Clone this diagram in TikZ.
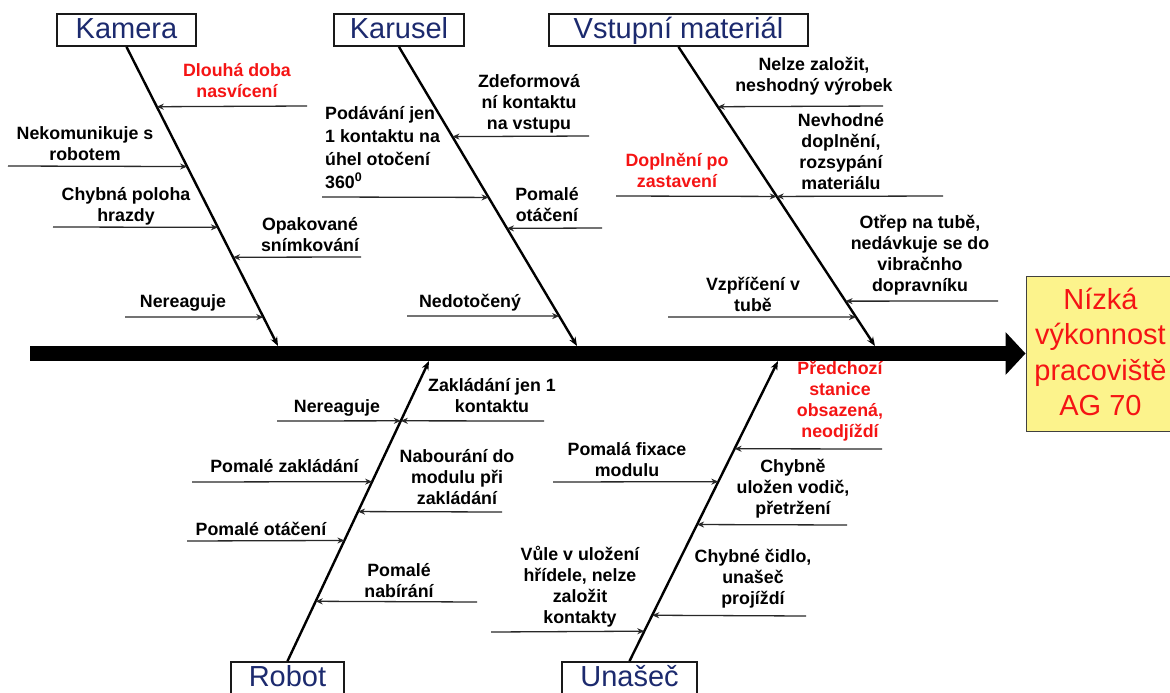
\documentclass[tikz,border=0pt]{standalone}
\usepackage{fontspec}
\setmainfont{Liberation Sans}
\usetikzlibrary{arrows.meta,calc}
\definecolor{catnavy}{RGB}{28,42,110}
\definecolor{alertred}{RGB}{245,20,20}
\definecolor{effyellow}{RGB}{252,243,140}
\definecolor{linegray}{RGB}{40,40,40}

\begin{document}
\begin{tikzpicture}[x=1pt,y=-1pt,
  catbox/.style={draw=black!90, line width=1.8pt, fill=white, minimum height=32pt,
    inner sep=0pt, text height=17pt, text depth=0pt, text=catnavy,
    font=\fontsize{29}{34}\selectfont},
  effbox/.style={draw=black!75, line width=1pt, fill=effyellow, minimum width=149pt,
    minimum height=155pt, inner sep=0pt, align=center, text=alertred,
    font=\fontsize{29}{35.6}\selectfont},
  bone/.style={line width=2.4pt, -{Stealth[length=9pt,width=7pt]}},
  spine/.style={line width=15pt},
  cause/.style={draw=linegray, line width=1.3pt, -{Stealth[length=7pt,width=6pt]}},
  lbl/.style={inner sep=0pt, align=center, anchor=south,
    font=\fontsize{17.8}{21}\selectfont\bfseries},
  alert/.style={text=alertred}
]
\useasboundingbox (0,0) rectangle (1170,693);
\clip (0,0) rectangle (1170,693);
\fill[white] (0,0) rectangle (1170,693);

% category boxes
\node[catbox, minimum width=139pt] (kam) at (126.5,30) {Kamera};
\node[catbox, minimum width=130pt] (kar) at (399,30) {Karusel};
\node[catbox, minimum width=259pt] (vst) at (678.5,30) {Vstupní materiál};
\node[catbox, minimum width=113pt] (rob) at (287.5,678) {Robot};
\node[catbox, minimum width=135pt] (una) at (629.5,678) {Unašeč};

% effect
\node[effbox] (eff) at (1100.5,353.5)
  {\rule{0pt}{28pt}Nízká\\výkonnost\\pracoviště\\AG 70\rule[-10pt]{0pt}{10pt}};

% spine with its head
\coordinate (spL) at (30,353.5);
\draw[spine] (spL) -- ($(eff.west)+(-20,0)$);
\fill ($(eff.west)+(-20,-21.5)$) -- (eff.west) -- ($(eff.west)+(-20,21.5)$) -- cycle;

% bones
\coordinate (kamS) at (278,346);
\coordinate (karS) at (577,346);
\coordinate (vstS) at (875,346);
\coordinate (robS) at (429,361);
\coordinate (unaS) at (778,361);
\draw[bone] (kam.south) -- (kamS);
\draw[bone] (kar.south) -- (karS);
\draw[bone] (vst.south) -- (vstS);
\draw[bone] (rob.north) -- (robS);
\draw[bone] (una.north) -- (unaS);

% Kamera causes
\coordinate (k1) at ($(kam.south)!0.2!(kamS)$);    \coordinate (k1f) at (307,106);
\coordinate (k2) at ($(kam.south)!0.4!(kamS)$);    \coordinate (k2f) at (8,166);
\coordinate (k3) at ($(kam.south)!0.6033!(kamS)$); \coordinate (k3f) at (53,227);
\coordinate (k4) at ($(kam.south)!0.7033!(kamS)$); \coordinate (k4f) at (361,257);
\coordinate (k5) at ($(kam.south)!0.9033!(kamS)$); \coordinate (k5f) at (125,317);
\foreach \c in {k1,k2,k3,k4,k5} \draw[cause] (\c f) -- (\c);
\node[lbl, alert] (k1t) at (237,104.3) {Dlouhá doba\\nasvícení\strut};
\node[lbl] (k2t) at (85,167.3) {Nekomunikuje s\\robotem\strut};
\node[lbl] (k3t) at (126,228.3) {Chybná poloha\\hrazdy\strut};
\node[lbl] (k4t) at (310,258.3) {Opakované\\snímkování\strut};
\node[lbl] (k5t) at (183,314.3) {Nereaguje\strut};

% Karusel causes
\coordinate (r1) at ($(kar.south)!0.3!(karS)$);    \coordinate (r1f) at (589,136);
\coordinate (r2) at ($(kar.south)!0.5033!(karS)$); \coordinate (r2f) at (322,197);
\coordinate (r3) at ($(kar.south)!0.6067!(karS)$); \coordinate (r3f) at (602,228);
\coordinate (r4) at ($(kar.south)!0.9!(karS)$);    \coordinate (r4f) at (407,316);
\foreach \c in {r1,r2,r3,r4} \draw[cause] (\c f) -- (\c);
\node[lbl] (r1t) at (529,136.3) {Zdeformová\\ní kontaktu\\na vstupu\strut};
\node[lbl, anchor=south west, align=left,
  font=\fontsize{17.8}{23}\selectfont\bfseries] (r2t) at (325,195.3)
  {Podávání jen\\1 kontaktu na\\úhel otočení\\360\textsuperscript{0}\strut};
\node[lbl] (r3t) at (547,228.3) {Pomalé\\otáčení\strut};
\node[lbl] (r4t) at (470,314.3) {Nedotočený\strut};

% Vstupni material causes
\coordinate (v1) at ($(vst.south)!0.2!(vstS)$);    \coordinate (v1f) at (883,106);
\coordinate (v2) at ($(vst.south)!0.5!(vstS)$);    \coordinate (v2f) at (943,196);
\coordinate (v3) at ($(vst.south)!0.5!(vstS)$);    \coordinate (v3f) at (616,196);
\coordinate (v4) at ($(vst.south)!0.85!(vstS)$);   \coordinate (v4f) at (998,301);
\coordinate (v5) at ($(vst.south)!0.9033!(vstS)$); \coordinate (v5f) at (668,317);
\foreach \c in {v1,v2,v3,v4,v5} \draw[cause] (\c f) -- (\c);
\node[lbl] (v1t) at (814,98.3) {Nelze založit,\\neshodný výrobek\strut};
\node[lbl] (v2t) at (841,196.3) {Nevhodné\\doplnění,\\rozsypání\\materiálu\strut};
\node[lbl, alert] (v3t) at (677,194.3) {Doplnění po\\zastavení\strut};
\node[lbl] (v4t) at (920,298.3) {Otřep na tubě,\\nedávkuje se do\\vibračnho\\dopravníku\strut};
\node[lbl] (v5t) at (753,318.3) {Vzpříčení v\\tubě\strut};

% Robot causes
\coordinate (b1) at ($(rob.north)!0.8007!(robS)$); \coordinate (b1f) at (277,421);
\coordinate (b2) at ($(rob.north)!0.8007!(robS)$); \coordinate (b2f) at (544,421);
\coordinate (b3) at ($(rob.north)!0.598!(robS)$);  \coordinate (b3f) at (192,482);
\coordinate (b4) at ($(rob.north)!0.4983!(robS)$); \coordinate (b4f) at (502,512);
\coordinate (b5) at ($(rob.north)!0.402!(robS)$);  \coordinate (b5f) at (187,541);
\coordinate (b6) at ($(rob.north)!0.1993!(robS)$); \coordinate (b6f) at (477,602);
\foreach \c in {b1,b2,b3,b4,b5,b6} \draw[cause] (\c f) -- (\c);
\node[lbl] (b1t) at (337,419.3) {Nereaguje\strut};
\node[lbl] (b2t) at (492,419.3) {Zakládání jen 1\\kontaktu\strut};
\node[lbl] (b3t) at (284.5,479.3) {Pomalé zakládání\strut};
\node[lbl] (b4t) at (457,511.3) {Nabourání do\\modulu při\\zakládání\strut};
\node[lbl] (b5t) at (261,542.3) {Pomalé otáčení\strut};
\node[lbl] (b6t) at (399,604.3) {Pomalé\\nabírání\strut};

% Unasec causes
\coordinate (u1) at ($(una.north)!0.7076!(unaS)$); \coordinate (u1f) at (882,449);
\coordinate (u2) at ($(una.north)!0.598!(unaS)$);  \coordinate (u2f) at (553,482);
\coordinate (u3) at ($(una.north)!0.4551!(unaS)$); \coordinate (u3f) at (847,525);
\coordinate (u4) at ($(una.north)!0.1528!(unaS)$); \coordinate (u4f) at (806,616);
\coordinate (u5) at ($(una.north)!0.0997!(unaS)$); \coordinate (u5f) at (491,632);
\foreach \c in {u1,u2,u3,u4,u5} \draw[cause] (\c f) -- (\c);
\node[lbl, alert] (u1t) at (840,444.3) {Předchozí\\stanice\\obsazená,\\neodjíždí\strut};
\node[lbl] (u2t) at (627,483.3) {Pomalá fixace\\modulu\strut};
\node[lbl] (u3t) at (793,521.3) {Chybně\\uložen vodič,\\přetržení\strut};
\node[lbl] (u4t) at (753,611.3) {Chybné čidlo,\\unašeč\\projíždí\strut};
\node[lbl] (u5t) at (580,630.3) {Vůle v uložení\\hřídele, nelze\\založit\\kontakty\strut};
\end{tikzpicture}
\end{document}
